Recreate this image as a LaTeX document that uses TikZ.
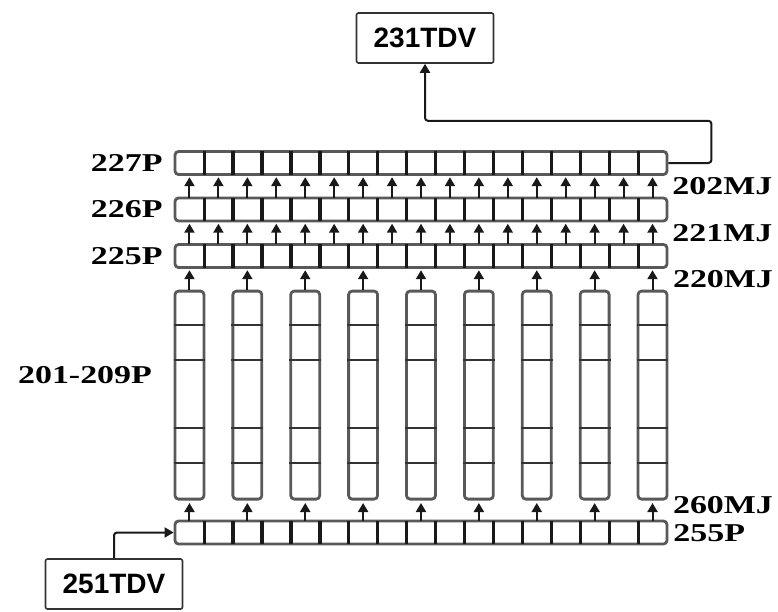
\documentclass[tikz,border=0pt]{standalone}
\usepackage{fontspec}
\setmainfont{Liberation Serif}
\setsansfont{Liberation Sans}
\usetikzlibrary{arrows.meta,positioning,calc}

\begin{document}
\begin{tikzpicture}[x=1pt,y=-1pt,>={Triangle[length=9pt,width=10pt]}]
  \tikzstyle{rowbox}=[draw=black!65,line width=2.8pt,rounded corners=3.5pt,inner sep=0pt,minimum width=492pt,minimum height=23pt]
  \tikzstyle{cell}=[inner sep=0pt,minimum width=28.94pt,minimum height=23pt]
  \tikzstyle{colbox}=[draw=black!65,line width=2.8pt,rounded corners=3.5pt,inner sep=0pt,minimum width=28.94pt,minimum height=208pt]
  \tikzstyle{divider}=[black!90,line width=3.2pt]
  \tikzstyle{rung}=[black!80,line width=2.4pt]
  \tikzstyle{flow}=[black!90,line width=2pt,shorten >=2.5pt]
  \tikzstyle{lbl}=[font=\bfseries\fontsize{25.7}{26}\selectfont,inner sep=0pt,xscale=1.32]
  \tikzstyle{tdv}=[draw=black!80,line width=1.6pt,rounded corners=2pt,minimum width=137pt,minimum height=50pt,inner sep=0pt,font=\sffamily\bfseries\fontsize{28}{28}\selectfont]
  \useasboundingbox (0,0) rectangle (778,611);

  % pipe rows
  \foreach \r/\y in {227/163,226/209.5,225/256,255/532.5} {
    \node[rowbox] (r\r) at (421,\y) {};
    \foreach \i in {1,...,17}
      \node[cell] (r\r-\i) at ({175+(\i-0.5)*28.94},\y) {};
    \foreach \i in {1,...,16}
      \draw[divider] (r\r-\i.north east) -- (r\r-\i.south east);
  }

  % columns 201-209
  \foreach \j in {1,...,9} {
    \pgfmathtruncatemacro\k{2*\j-1}
    \node[colbox,below=22pt of r225-\k] (col\j) {};
    \foreach \d in {35,70,138,173}
      \draw[rung] ($(col\j.north west)+(0,\d)$) -- ($(col\j.north east)+(0,\d)$);
    \draw[->,flow] (col\j.north) -- (r225-\k.south);
    \draw[->,flow] (r255-\k.north) -- (col\j.south);
  }

  % between rows
  \foreach \i in {1,...,17} {
    \draw[->,flow] (r225-\i.north) -- (r226-\i.south);
    \draw[->,flow] (r226-\i.north) -- (r227-\i.south);
  }

  % labels
  \node[lbl,left=12pt of r227-1] {227P};
  \node[lbl,left=12pt of r226-1] {226P};
  \node[lbl,left=12pt of r225-1] {225P};
  \node[lbl] at (85,375) {201-209P};
  \node[lbl,anchor=west] at ($(r227-17.south east)!.5!(r226-17.north east)+(5,0)$) {202MJ};
  \node[lbl,anchor=west] at ($(r226-17.south east)!.5!(r225-17.north east)+(5,0)$) {221MJ};
  \node[lbl,anchor=west] at ($(r225-17.south east)!.5!(col9.north east)+(5,0)$) {220MJ};
  \node[lbl,anchor=west] at ($(col9.south east)!.5!(r255-17.north east)+(5,-6)$) {260MJ};
  \node[lbl,right=6pt of r255-17,yshift=-1pt] {255P};

  % TDV boxes
  \node[tdv] (tdvtop) at (425,38) {231TDV};
  \node[tdv] (tdvbot) at (114,584) {251TDV};
  \draw[->,flow,shorten >=0pt,rounded corners=3pt] (r227.east) -- ++(43,0) |- ($(tdvtop.south)+(0,57)$) -- (tdvtop.south);
  \draw[->,flow,shorten >=0pt,rounded corners=3pt] (tdvbot.north) |- (r255.west);
\end{tikzpicture}
\end{document}
